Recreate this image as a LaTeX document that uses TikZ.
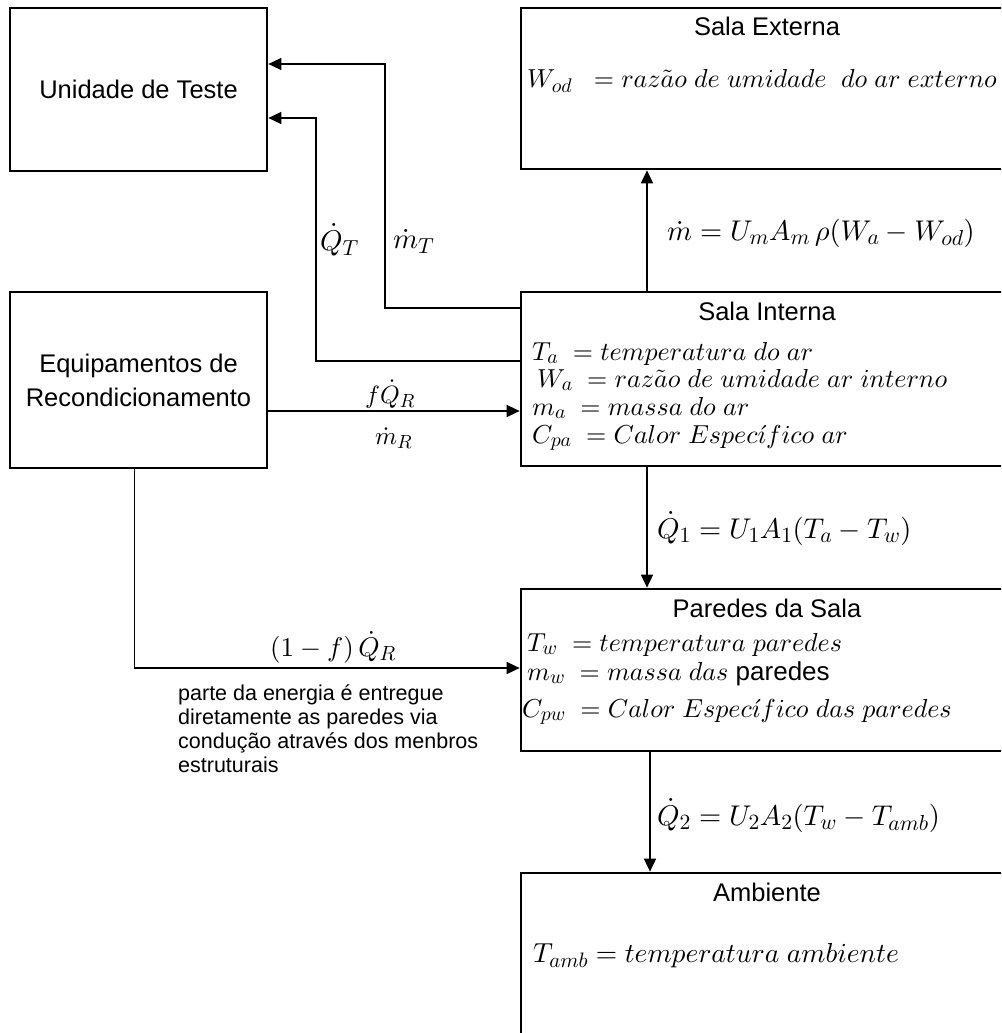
\documentclass[tikz,border=0pt]{standalone}
\usepackage[no-math]{fontspec}
\setmainfont{Liberation Sans}
\DeclareFontShape{OML}{cmm}{m}{it}{<->cmmi10}{}
\DeclareFontShape{OT1}{cmr}{m}{n}{<->cmr10}{}
\DeclareFontShape{OMS}{cmsy}{m}{n}{<->cmsy10}{}
\DeclareFontShape{OMX}{cmex}{m}{n}{<->cmex10}{}
\DeclareMathSizes{25}{25}{19}{15}
\DeclareMathSizes{26}{26}{19.8}{15.6}
\DeclareMathSizes{27}{27}{20.5}{16.2}
\DeclareMathSizes{27.5}{27.5}{20.9}{16.5}
\DeclareMathSizes{28.5}{28.5}{21.7}{17.1}
\usetikzlibrary{arrows.meta}
\begin{document}
\begin{tikzpicture}[x=1pt,y=-1pt,
  box/.style={draw, line width=2.7pt, inner sep=0pt},
  conn/.style={line width=1.6pt},
  arr/.style={conn, -{Triangle[length=13pt,width=12pt]}},
  ttl/.style={inner sep=0pt, font=\fontsize{25.5}{34}\selectfont},
  boxmath/.style={inner sep=0pt, anchor=base west, font=\fontsize{26}{30}\selectfont},
  lblmath/.style={inner sep=0pt, anchor=base west, font=\fontsize{28.5}{34}\selectfont},
  smallmath/.style={inner sep=0pt, anchor=base west, font=\fontsize{25}{30}\selectfont},
  note/.style={inner sep=0pt, anchor=north west, align=left, font=\fontsize{21.5}{24}\selectfont}]
\clip (0,0) rectangle (1001,1033);
\useasboundingbox (0,0) rectangle (1001,1033);

% boxes
\node[box, minimum width=257pt, minimum height=163pt] (ut) at (138.5,89.5) {};
\node[box, minimum width=492pt, minimum height=161pt] (se) at (767,88.5) {};
\node[box, minimum width=257pt, minimum height=176pt] (eq) at (138.5,380) {};
\node[box, minimum width=492pt, minimum height=174pt] (si) at (767,379) {};
\node[box, minimum width=492pt, minimum height=162pt] (pw) at (767,670) {};
\node[box, minimum width=492pt, minimum height=176pt] (am) at (767,961) {};

% titles
\node[ttl, anchor=base] (utt) at (138.5,98) {Unidade de Teste};
\node[ttl, align=center] (eqt) at (138.5,380) {Equipamentos de\\Recondicionamento};
\node[ttl, anchor=base] (set) at (767,36) {Sala Externa};
\node[ttl, anchor=base] (sit) at (767,320) {Sala Interna};
\node[ttl, anchor=base] (pwt) at (767,617) {Paredes da Sala};
\node[ttl, anchor=base] (amt) at (767,901) {Ambiente};

% box contents
\node[boxmath] (se1) at (527,88) {$W_{od}\ \ = raz\tilde{a}o\ de\ umidade\ \ do\ ar\ externo$};
\node[boxmath] (si1) at (532,360) {$T_a\ = temperatura\ do\ ar$};
\node[boxmath] (si2) at (537,387) {$W_a\ = raz\tilde{a}o\ de\ umidade\ ar\ interno$};
\node[boxmath] (si3) at (532,415) {$m_a\ = massa\ do\ ar$};
\node[boxmath] (si4) at (532,443) {$C_{pa}\ = Calor\ Espec\acute{\imath}fico\ ar$};
\node[boxmath] (pw1) at (527,651) {$T_w\ = temperatura\ paredes$};
\node[boxmath] (pw2) at (527,680) {$m_w\ = massa\ das$ paredes};
\node[boxmath] (pw3) at (522,717) {$C_{pw}\ = Calor\ Espec\acute{\imath}fico\ das\ paredes$};
\node[boxmath, font=\fontsize{27.5}{30}\selectfont] (am1) at (533,962) {$T_{amb} = temperatura\ ambiente$};

% connectors
\coordinate (xa) at (647,0);
\coordinate (xb) at (650,0);
\coordinate (ya) at (0,411);
\coordinate (b1) at (134.5,668);
\coordinate (q1) at (316,361);
\coordinate (q2) at (316,118);
\coordinate (m1) at (385,308);
\coordinate (m2) at (385,64);
\draw[arr] (si.north -| xa) -- (se.south -| xa);
\draw[arr] (si.south -| xa) -- (pw.north -| xa);
\draw[arr] (pw.south -| xb) -- (am.north -| xb);
\draw[arr] (eq.east |- ya) -- (si.west |- ya);
\draw[arr] (eq.south -| b1) -- (b1) -- (pw.west |- b1);
\draw[arr] (si.west |- q1) -- (q1) -- (q2) -- (ut.east |- q2);
\draw[arr] (si.west |- m1) -- (m1) -- (m2) -- (ut.east |- m2);

% connector labels
\node[lblmath] (lm) at (667,240) {$\dot{m} = U_mA_m\,\rho(W_a - W_{od})$};
\node[lblmath] (lq1) at (657,538) {$\dot{Q}_1 = U_1A_1(T_a - T_w)$};
\node[lblmath] (lq2) at (657,825) {$\dot{Q}_2 = U_2A_2(T_w - T_{amb})$};
\node[lblmath] (lqt) at (320,250) {$\dot{Q}_T$};
\node[lblmath] (lmt) at (393,248) {$\dot{m}_T$};
\node[smallmath] (lfq) at (365,403) {$f\dot{Q}_R$};
\node[smallmath] (lmr) at (375,444) {$\dot{m}_R$};
\node[lblmath, font=\fontsize{27}{32}\selectfont] (l1f) at (270,656) {$(1-f)\,\dot{Q}_R$};
\node[note] (nt) at (178,684) {parte da energia é entregue\\diretamente as paredes via\\condução através dos menbros\\estruturais};
\end{tikzpicture}
\end{document}
